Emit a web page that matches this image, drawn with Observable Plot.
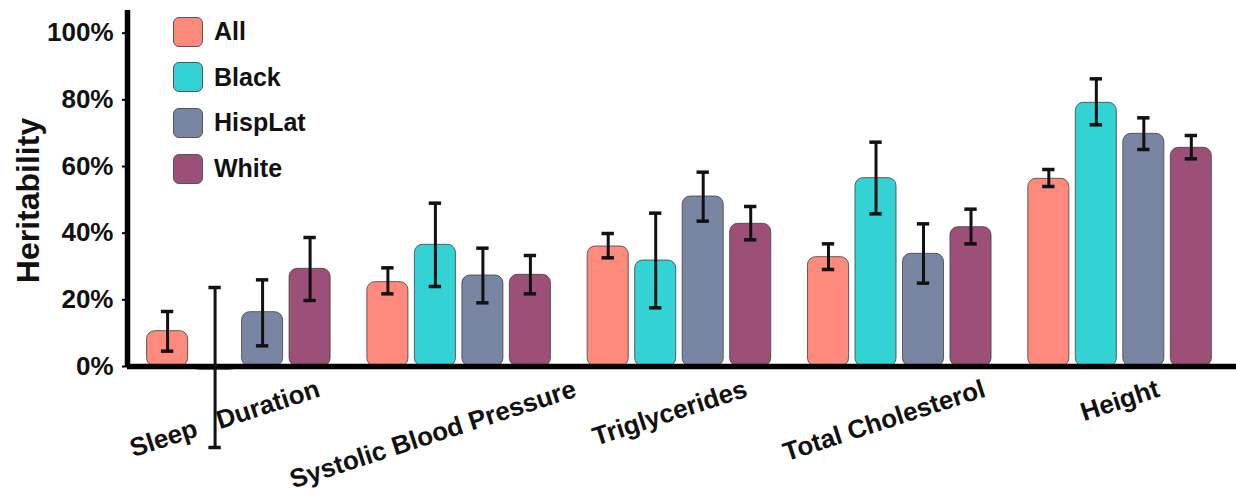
<!DOCTYPE html>
<html>
<head>
<meta charset="utf-8">
<script src="https://cdn.jsdelivr.net/npm/d3@7"></script>
<script src="https://cdn.jsdelivr.net/npm/@observablehq/plot@0.6"></script>
<style>
  html, body { margin: 0; padding: 0; background: #fff; }
  #wrap { position: relative; width: 1236px; height: 498px; font-family: "Liberation Sans", Arial, sans-serif; }
  #legend { position: absolute; left: 173px; top: 9px; }
  .item { display: flex; align-items: center; height: 45.6px; }
  .sw { width: 30px; height: 30px; border-radius: 6px; border: 1px solid #555; box-sizing: border-box; }
  .lab { margin-left: 11px; font-size: 25px; font-weight: bold; color: #111; }
</style>
</head>
<body>
<div id="wrap"><div id="legend"></div></div>
<script>
// ---- data ----
const groups = ["Sleep Duration", "Systolic Blood Pressure", "Triglycerides", "Total Cholesterol", "Height"];
const races = ["All", "Black", "HispLat", "White"];
const colors = ["#FE897D", "#33D2D4", "#7886A4", "#9D5077"];

const valueAll     = [0.106, 0.253, 0.360, 0.328, 0.563];
const valueBlack   = [-0.010, 0.365, 0.318, 0.565, 0.791];
const valueHispLat = [0.163, 0.273, 0.510, 0.338, 0.698];
const valueWhite   = [0.293, 0.275, 0.428, 0.418, 0.656];

const lowAll     = [0.046, 0.218, 0.326, 0.291, 0.540];
const lowBlack   = [-0.243, 0.240, 0.176, 0.458, 0.725];
const lowHispLat = [0.062, 0.191, 0.436, 0.250, 0.651];
const lowWhite   = [0.198, 0.218, 0.380, 0.368, 0.623];

const highAll     = [0.165, 0.296, 0.399, 0.368, 0.591];
const highBlack   = [0.237, 0.490, 0.460, 0.673, 0.863];
const highHispLat = [0.260, 0.355, 0.583, 0.428, 0.746];
const highWhite   = [0.387, 0.333, 0.480, 0.472, 0.693];

const yTicks = [0, 0.2, 0.4, 0.6, 0.8, 1.0];

// ---- layout constants ----
const GROUP_STEP = 4.638;   // in bar-steps
const HALF = 0.432;         // half bar width in bar-steps
const CAP = 0.13;           // half cap width
const LABEL_SIZE = 26;
const ANGLE = 18;

const values = [valueAll, valueBlack, valueHispLat, valueWhite];
const lows = [lowAll, lowBlack, lowHispLat, lowWhite];
const highs = [highAll, highBlack, highHispLat, highWhite];

const data = groups.flatMap((g, gi) => races.map((r, ri) => ({
  group: g, race: r, pos: gi * GROUP_STEP + ri,
  value: values[ri][gi], lo: lows[ri][gi], hi: highs[ri][gi]
})));

// legend
const legend = document.getElementById("legend");
races.forEach((r, i) => {
  const it = document.createElement("div");
  it.className = "item";
  it.innerHTML = `<div class="sw" style="background:${colors[i]}"></div><div class="lab">${r}</div>`;
  legend.appendChild(it);
});

// x labels (the error bar of the first group runs through the gap between its two words)
const ctx = document.createElement("canvas").getContext("2d");
ctx.font = `bold ${LABEL_SIZE}px "Liberation Sans"`;
const rad = ANGLE * Math.PI / 180;
const labelMarks = groups.map((g, gi) => {
  const shown = gi === 0 ? g.replace(" ", "\u00A0\u00A0\u00A0") : g;
  const w = ctx.measureText(shown).width;
  const H = w * Math.sin(rad) + LABEL_SIZE * 0.95 * Math.cos(rad);
  return Plot.text([shown], {
    x: () => gi * GROUP_STEP + 1.5, y: () => 0, text: d => d,
    rotate: -ANGLE, dy: 10 + H / 2, dx: -0.12 * (w - 80),
    fontSize: LABEL_SIZE, fontWeight: "bold", fill: "#111"
  });
});

const chart = Plot.plot({
  width: 1236, height: 498,
  marginLeft: 127, marginRight: 0, marginTop: 10, marginBottom: 132,
  x: { domain: [-0.844, 22.503], axis: null },
  y: { domain: [0, 1.068], axis: null },
  color: { domain: races, range: colors },
  style: { fontFamily: "Liberation Sans, Arial, sans-serif", background: "white", overflow: "visible" },
  marks: [
    Plot.rectY(data, {
      x1: d => d.pos - HALF, x2: d => d.pos + HALF, y1: 0, y2: "value",
      fill: "race", stroke: "#404040", strokeWidth: 0.8, rx: 8
    }),
    Plot.ruleY([0], { stroke: "black", strokeWidth: 5.5 }),
    Plot.ruleX([-0.844], { stroke: "black", strokeWidth: 5.5 }),
    Plot.axisY({
      ticks: yTicks, tickFormat: d => Math.round(d * 100) + "%",
      tickSize: 5, tickPadding: 9, fontSize: 26, fontWeight: "bold",
      strokeWidth: 2, label: null, fill: "#111"
    }),
    Plot.text(["Heritability"], {
      frameAnchor: "left", textAnchor: "middle", rotate: -90, dx: -99, dy: 12,
      fontSize: 32, fontWeight: "bold", fill: "#111"
    }),
    Plot.ruleX(data, { x: "pos", y1: "lo", y2: "hi", stroke: "#111", strokeWidth: 3 }),
    Plot.ruleY(data, { y: "hi", x1: d => d.pos - CAP, x2: d => d.pos + CAP, stroke: "#111", strokeWidth: 3.5 }),
    Plot.ruleY(data, { y: "lo", x1: d => d.pos - CAP, x2: d => d.pos + CAP, stroke: "#111", strokeWidth: 3.5 }),
    ...labelMarks
  ]
});
document.getElementById("wrap").prepend(chart);
</script>
</body>
</html>
